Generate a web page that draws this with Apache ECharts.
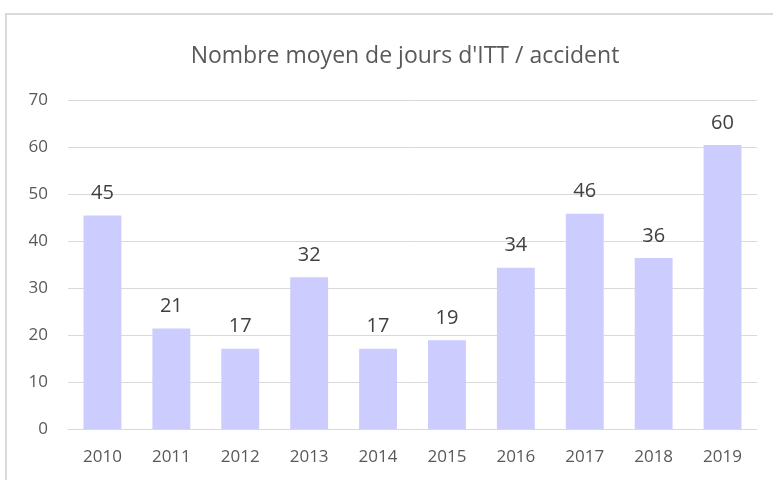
<!DOCTYPE html>
<html>
<head>
<meta charset="utf-8">
<script src="https://cdn.jsdelivr.net/npm/echarts@6/dist/echarts.min.js"></script>
<style>
  html, body { margin: 0; padding: 0; background: #fff; }
  #frame {
    position: absolute; left: 5px; top: 13px; width: 800px; height: 480px;
    border: 2px solid #d9d9d9; box-sizing: border-box;
  }
  #echart { position: absolute; left: 0; top: 0; width: 773px; height: 480px; }
</style>
</head>
<body>
<div id="frame"></div>
<div id="echart"></div>
<script>
var years = ['2010', '2011', '2012', '2013', '2014', '2015', '2016', '2017', '2018', '2019'];
var joursITT = [45.4, 21.4, 17.1, 32.3, 17.1, 18.9, 34.3, 45.8, 36.4, 60.4];
var titre = "Nombre moyen de jours d'ITT / accident";

var font = '"Open Sans", "Liberation Sans", sans-serif';

var myChart = echarts.init(document.getElementById('echart'));
myChart.setOption({
  animation: false,
  title: {
    text: titre,
    left: 400,
    top: 40,
    textAlign: 'center',
    textStyle: { fontFamily: font, fontSize: 23, fontWeight: 'normal', color: '#595959' }
  },
  grid: { left: 68, right: 16, top: 100, bottom: 51 },
  xAxis: {
    type: 'category',
    data: years,
    axisTick: { show: false },
    axisLine: { lineStyle: { color: '#d9d9d9', width: 1 } },
    axisLabel: { color: '#595959', fontFamily: font, fontSize: 17, margin: 20 }
  },
  yAxis: {
    type: 'value',
    min: 0,
    max: 70,
    interval: 10,
    splitLine: { lineStyle: { color: '#d9d9d9', width: 1 } },
    axisLabel: { color: '#595959', fontFamily: font, fontSize: 17, margin: 20 }
  },
  series: [{
    type: 'bar',
    data: joursITT,
    barWidth: '55%',
    itemStyle: { color: '#ccccff' },
    label: {
      show: true,
      position: 'top',
      distance: 12,
      color: '#404040',
      fontFamily: font,
      fontSize: 20,
      formatter: function (p) { return Math.round(p.value); }
    }
  }]
});
</script>
</body>
</html>
